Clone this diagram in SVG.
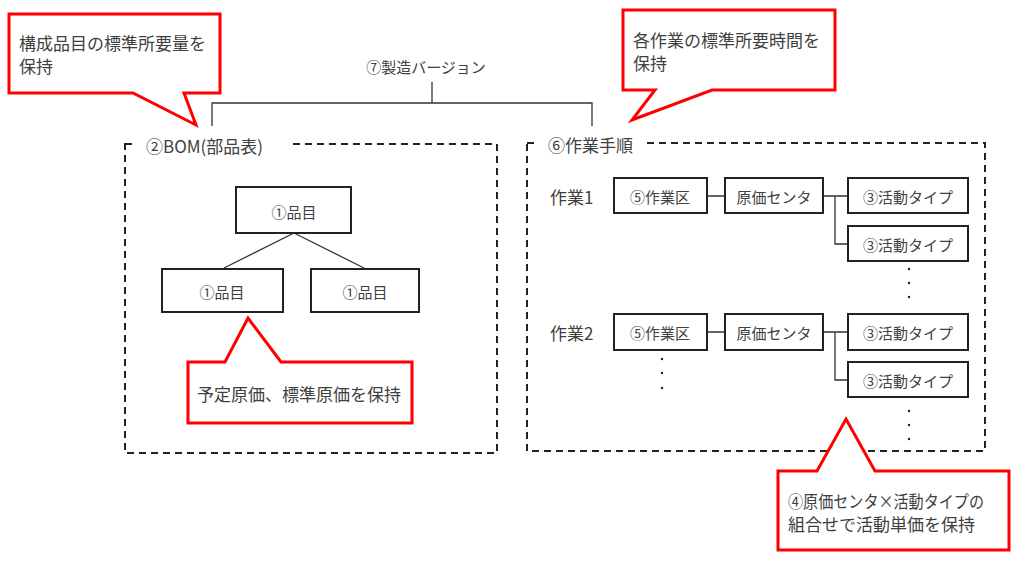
<svg xmlns="http://www.w3.org/2000/svg" width="1024" height="563" viewBox="0 0 1024 563">
<style>
text{font-family:"Noto Sans CJK JP","Liberation Sans",sans-serif;fill:#404040;}
.t{font-size:15px;text-anchor:middle;dominant-baseline:central;}
.l{font-size:17px;dominant-baseline:central;}
.c{font-size:17px;dominant-baseline:central;}
.box{fill:#fff;stroke:#222;stroke-width:2;}
.dash{fill:none;stroke:#222;stroke-width:2;stroke-dasharray:7,5;}
.ln{fill:none;stroke:#333;stroke-width:1.3;}
.call{fill:#fff;stroke:#ff0000;stroke-width:3;stroke-linejoin:miter;}
.dot{fill:#222;}
</style>
<rect width="1024" height="563" fill="#fff"/>

<g id="connectors">
<path class="ln" d="M432 82 V103 M212 126 V103 H592 V126"/>
<path class="ln" d="M294 233 L224 268 M294 233 L364 268"/>
<path class="ln" d="M707 196 H725 M823 196 H835 M835 196 V244 H848 M835 196 H848"/>
<path class="ln" d="M707 332 H725 M823 332 H835 M835 332 V380 H848 M835 332 H848"/>
</g>

<g id="version">
<text x="426" y="66" text-anchor="middle" dominant-baseline="central" font-size="15">⑦製造バージョン</text>
</g>

<g id="bom">
<rect class="dash" x="125" y="144" width="372" height="309"/>
<rect x="135" y="131" width="156" height="26" fill="#fff"/>
<text class="l" x="146" y="145">②BOM(部品表)</text>
</g>

<g id="item-top"><rect class="box" x="236" y="187" width="115" height="46"/><text class="t" x="294" y="211" font-size="16">①品目</text></g>
<g id="item-left"><rect class="box" x="162" y="269" width="121" height="43"/><text class="t" x="222" y="291" font-size="16">①品目</text></g>
<g id="item-right"><rect class="box" x="311" y="269" width="108" height="43"/><text class="t" x="365" y="291" font-size="16">①品目</text></g>

<g id="routing">
<rect class="dash" x="527" y="143" width="458" height="308"/>
<rect x="537" y="130" width="108" height="26" fill="#fff"/>
<text class="l" x="548" y="144">⑥作業手順</text>
<text class="l" x="550" y="196" font-size="16">作業1</text>
<text class="l" x="550" y="332" font-size="16">作業2</text>
<circle class="dot" cx="909" cy="269" r="1.2"/><circle class="dot" cx="909" cy="283" r="1.2"/><circle class="dot" cx="909" cy="297" r="1.2"/>
<circle class="dot" cx="662" cy="359" r="1.2"/><circle class="dot" cx="662" cy="373" r="1.2"/><circle class="dot" cx="662" cy="388" r="1.2"/>
<circle class="dot" cx="909" cy="411" r="1.2"/><circle class="dot" cx="909" cy="425" r="1.2"/><circle class="dot" cx="909" cy="439" r="1.2"/>
</g>

<g id="wc1"><rect class="box" x="614" y="178" width="93" height="35"/><text class="t" x="660" y="196">⑤作業区</text></g>
<g id="cc1"><rect class="box" x="725" y="178" width="98" height="35"/><text class="t" x="774" y="196">原価センタ</text></g>
<g id="at1"><rect class="box" x="848" y="178" width="120" height="35"/><text class="t" x="908" y="196">③活動タイプ</text></g>
<g id="at2"><rect class="box" x="848" y="226" width="120" height="35"/><text class="t" x="908" y="244">③活動タイプ</text></g>
<g id="wc2"><rect class="box" x="614" y="314" width="93" height="36"/><text class="t" x="660" y="332">⑤作業区</text></g>
<g id="cc2"><rect class="box" x="725" y="314" width="98" height="36"/><text class="t" x="774" y="332">原価センタ</text></g>
<g id="at3"><rect class="box" x="848" y="314" width="120" height="36"/><text class="t" x="908" y="332">③活動タイプ</text></g>
<g id="at4"><rect class="box" x="848" y="362" width="120" height="35"/><text class="t" x="908" y="380">③活動タイプ</text></g>

<g id="callout-bom">
<path class="call" d="M9 14 H220 V93 H184 L196 125 L133 93 H9 Z"/>
<text class="c" x="19" y="42">構成品目の標準所要量を</text>
<text class="c" x="19" y="65">保持</text>
</g>
<g id="callout-routing">
<path class="call" d="M623 10 H835 V90 H712 L632 120 L655 90 H623 Z"/>
<text class="c" x="633" y="39">各作業の標準所要時間を</text>
<text class="c" x="633" y="62">保持</text>
</g>
<g id="callout-item">
<path class="call" d="M188 362 H225 L248 318 L281 362 H412 V423 H188 Z"/>
<text class="c" x="299" y="393" text-anchor="middle">予定原価、標準原価を保持</text>
</g>
<g id="callout-rate">
<path class="call" d="M778 471 H817 L846 419 L875 471 H1009 V550 H778 Z"/>
<text class="c" x="788" y="500" textLength="196" lengthAdjust="spacingAndGlyphs">④原価センタ×活動タイプの</text>
<text class="c" x="788" y="523">組合せで活動単価を保持</text>
</g>
</svg>
